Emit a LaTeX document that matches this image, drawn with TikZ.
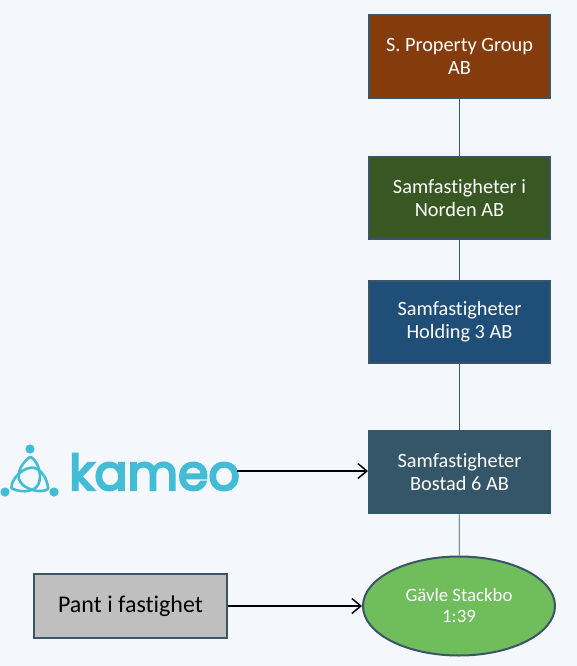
\documentclass[tikz,border=0pt]{standalone}
\usepackage{fontspec}
\setmainfont[Ligatures=NoCommon]{Carlito}
\newfontfamily\logofont[FakeBold=4.5]{Poppins}
\usetikzlibrary{shapes.geometric,arrows.meta}
\definecolor{bgc}{HTML}{F4F7FC}
\definecolor{edgec}{HTML}{3A5568}
\definecolor{brownc}{HTML}{843C0C}
\definecolor{greenc}{HTML}{385723}
\definecolor{bluec}{HTML}{1F4E79}
\definecolor{slatec}{HTML}{355668}
\definecolor{ellc}{HTML}{70BD5C}
\definecolor{grayc}{HTML}{BFBFBF}
\definecolor{logoc}{HTML}{43BDD6}
\tikzset{
  ent/.style={draw=edgec,line width=2pt,minimum width=181pt,minimum height=82.5pt,align=center,text=white,font=\fontsize{20.3pt}{23pt}\selectfont,inner sep=0pt,execute at begin node={\rule{0pt}{18pt}}},
  link/.style={draw=edgec,line width=0.8pt},
  flow/.style={draw=black,line width=1.5pt,-{Straight Barb[length=9pt,width=15pt,line width=1.5pt]}},
  logoline/.style={draw=logoc,line width=2.6pt,line cap=round},
}
\begin{document}
\begin{tikzpicture}[x=1pt,y=-1pt]
\useasboundingbox[fill=bgc] (0,0) rectangle (577,666);
\node[ent,fill=brownc] (a) at (459.5,56.5) {S. Property Group\\AB};
\node[ent,fill=greenc] (b) at (459.5,198) {Samfastigheter i\\Norden AB};
\node[ent,fill=bluec] (c) at (459.5,322) {Samfastigheter\\Holding 3 AB};
\node[ent,fill=slatec,draw=slatec] (d) at (459.5,472) {Samfastigheter\\Bostad 6 AB};
\node[ellipse,draw=edgec,line width=2pt,fill=ellc,minimum width=192pt,minimum height=99pt,align=center,text=white,font=\fontsize{18.8pt}{21pt}\selectfont,inner sep=0pt] (e) at (459,606) {Gävle Stackbo\\1:39};
\node[draw=edgec,line width=2pt,fill=grayc,minimum width=193pt,minimum height=64pt,font=\fontsize{24pt}{26pt}\selectfont,text=black,inner sep=0pt] (p) at (130.5,606) {Pant i fastighet};
\node[anchor=center,text=logoc,font=\logofont\fontsize{49pt}{49pt}\selectfont,inner sep=0pt,outer sep=0pt] (k) at (154.5,472) {kameo};
% logo icon
\fill[logoc] (30,449) circle (4.6) (5,492) circle (4.6) (54,492) circle (4.6);
\foreach \r in {0,120,240}{
  \begin{scope}[rotate around={\r:(30,478)}]
    \draw[logoline] (30,457) .. controls (20,464) and (14,478) .. (23,485) .. controls (30,491) and (42,493) .. (48,489);
  \end{scope}
}
\draw[link] (a) -- (b);
\draw[link] (b) -- (c);
\draw[link] (c) -- (d);
\draw[link] (d) -- (e);
\coordinate (kout) at ([xshift=-3pt]k.east |- 0,471);
\draw[flow] (kout) -- (d.west |- 0,471);
\draw[flow] (p.east) -- (e.west);
\end{tikzpicture}
\end{document}
